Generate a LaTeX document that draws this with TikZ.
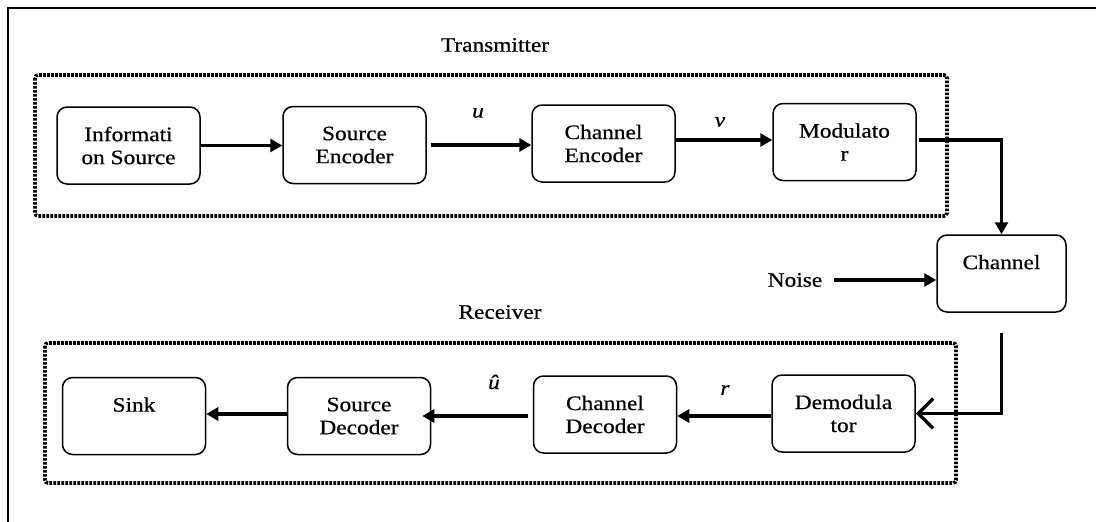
\documentclass[tikz,border=0pt]{standalone}
\usepackage{fontspec}
\setmainfont{Liberation Serif}[FakeStretch=1.14,FakeBold=0.6]
\usetikzlibrary{arrows.meta}
\begin{document}
\begin{tikzpicture}[x=1pt,y=-1pt,
  box/.style={draw, line width=1.5pt, rounded corners=10pt, minimum width=143pt, minimum height=77pt, align=center, inner sep=0pt, font=\fontsize{20.5}{23}\selectfont},
  lbl/.style={font=\fontsize{20.5}{23}\selectfont, inner sep=0pt},
  conn/.style={line width=3.5pt, -{Triangle[length=12pt,width=13pt]}},
  grp/.style={line width=3.6pt, dash pattern=on 2.6pt off 1.4pt, rounded corners=3pt}]
\useasboundingbox (0,0) rectangle (1096,522);
\draw[line width=2.2pt] (8,540) -- (8,8) -- (1110,8);
\draw[grp] (35,75) rectangle (947,216);
\draw[grp] (45,343) rectangle (956,483);
\node[lbl] (tx) at (495,45) {Transmitter};
\node[lbl] (rx) at (500,312) {Receiver};
\node[box] (info) at (128.5,145.5) {Informati\\on Source};
\node[box] (senc) at (354.5,145) {Source\\Encoder};
\node[box] (cenc) at (603.5,143.5) {Channel\\Encoder};
\node[box] (mod) at (844.5,142) {Modulato\\r};
\node[box, minimum width=129pt] (chan) at (1001.5,273.5) {Channel\\\mbox{}};
\node[lbl] (noise) at (795,280) {Noise};
\node[box] (sink) at (134,416) {Sink\\\mbox{}};
\node[box] (sdec) at (359,416) {Source\\Decoder};
\node[box] (cdec) at (605,414.5) {Channel\\Decoder};
\node[box] (demod) at (843.5,413.5) {Demodula\\tor};
\node[lbl] (u) at (478,113) {\textit{u}};
\node[lbl] (v) at (720,122) {\textit{v}};
\node[lbl] (r) at (725,390) {\textit{r}};
\node[lbl] (uh) at (494,382) {\textit{û}};
\draw[conn] (info.east) -- (info.east -| senc.west);
\draw[conn, shorten <=4pt] (senc.east) -- (senc.east -| cenc.west);
\draw[conn] (cenc.east |- 0,140) -- (mod.west |- 0,140);
\draw[conn] ([xshift=2pt]mod.east |- 0,140) -| (chan.north);
\draw[conn, shorten <=12pt] (noise.east) -- (noise.east -| chan.west);
\draw[line width=3.5pt, -{Straight Barb[length=15pt,width=30pt]}] ([yshift=-20pt]chan.south) |- (demod.east);
\draw[conn] (demod.west |- 0,416) -- (cdec.east |- 0,416);
\draw[conn, shorten <=5pt, shorten >=-9pt] (cdec.west |- 0,416) -- (sdec.east |- 0,416);
\draw[conn] (sdec.west |- 0,414) -- (sink.east |- 0,414);
\end{tikzpicture}
\end{document}
